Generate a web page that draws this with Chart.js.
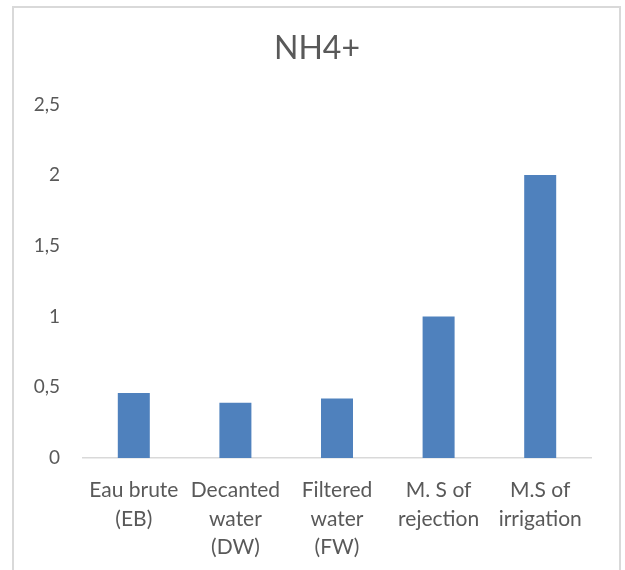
<!DOCTYPE html>
<html>
<head>
<meta charset="utf-8">
<script src="https://cdn.jsdelivr.net/npm/chart.js@4.4.1/dist/chart.umd.min.js"></script>
<style>
  html, body { margin: 0; padding: 0; background: #ffffff; }
  body { width: 625px; height: 570px; position: relative; overflow: hidden; }
  #frame {
    position: absolute; left: 12px; top: 6px; width: 605px; height: 620px;
    border: 2px solid #d9d9d9; box-sizing: content-box;
  }
  #wrap { position: absolute; left: 0; top: 0; width: 625px; height: 570px; }
</style>
</head>
<body>
<div id="frame"></div>
<div id="wrap"><canvas id="chart" width="625" height="570"></canvas></div>
<script>
// NH4+ concentration per sample
const categories = [
  ["Eau brute", "(EB)"],
  ["Decanted", "water", "(DW)"],
  ["Filtered", "water", "(FW)"],
  ["M. S of", "rejection"],
  ["M.S of", "irrigation"]
];
const nh4Values = [0.46, 0.39, 0.42, 1.0, 2.0];
const yTickValues = [0, 0.5, 1, 1.5, 2, 2.5];

const textColor = '#595959';
const fontFamily = 'Lato, "Open Sans", "Noto Sans", sans-serif';

new Chart(document.getElementById('chart'), {
  type: 'bar',
  data: {
    labels: categories,
    datasets: [{
      label: 'NH4+',
      data: nh4Values,
      backgroundColor: '#4f81bd',
      borderWidth: 0,
      categoryPercentage: 1,
      barPercentage: 0.315
    }]
  },
  options: {
    responsive: false,
    animation: false,
    layout: { padding: { left: 9, right: 0, top: 0, bottom: 0 } },
    plugins: {
      legend: { display: false },
      tooltip: { enabled: false },
      title: {
        display: true,
        text: 'NH4+',
        color: textColor,
        font: { family: fontFamily, size: 32, weight: 'normal' },
        padding: { top: 29, bottom: 37 }
      }
    },
    scales: {
      x: {
        grid: { display: false, drawTicks: false },
        border: { display: true, color: '#d9d9d9', width: 1.5 },
        ticks: {
          color: textColor,
          font: { family: fontFamily, size: 21, lineHeight: 1.36 },
          padding: 18,
          maxRotation: 0,
          minRotation: 0,
          autoSkip: false
        },
        afterFit: (scale) => { scale.height = 112; }
      },
      y: {
        min: 0,
        max: 2.5,
        afterBuildTicks: (scale) => {
          scale.ticks = yTickValues.map(v => ({ value: v }));
        },
        grid: { display: false, drawTicks: false },
        border: { display: false },
        ticks: {
          color: textColor,
          font: { family: fontFamily, size: 19 },
          padding: 23,
          callback: (v) => String(v).replace('.', ',')
        },
        afterFit: (scale) => { scale.width = 74; }
      },
      // empty right-hand margin beside the plot
      yRight: {
        position: 'right',
        min: 0,
        max: 2.5,
        grid: { display: false, drawTicks: false },
        border: { display: false },
        ticks: { display: false },
        afterFit: (scale) => { scale.width = 34; }
      }
    }
  }
});
</script>
</body>
</html>
